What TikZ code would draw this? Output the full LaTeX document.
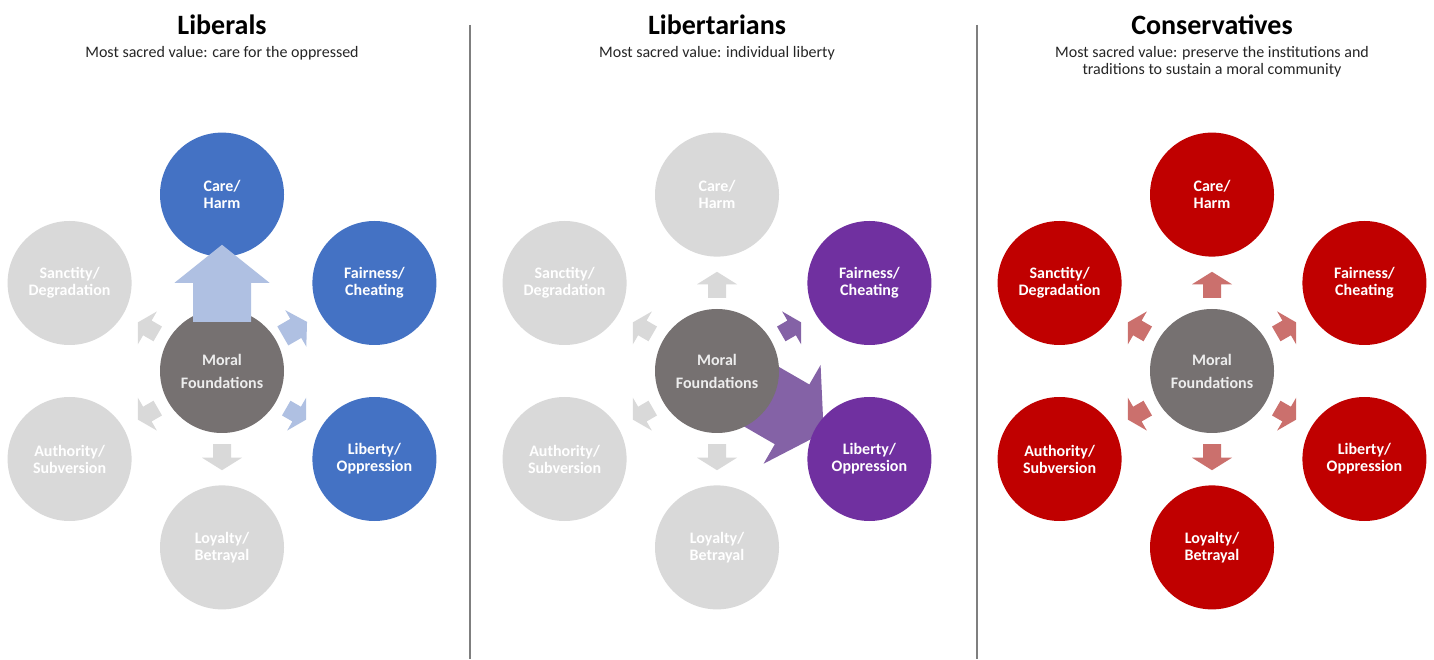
\documentclass[tikz,border=0pt]{standalone}
\usepackage{fontspec}
\setmainfont{Carlito}
\usetikzlibrary{calc,positioning}
\pgfdeclarelayer{back}
\pgfsetlayers{back,main}

\definecolor{libblue}{HTML}{4472C4}
\definecolor{libarrow}{HTML}{AFC0E2}
\definecolor{purcircle}{HTML}{7030A0}
\definecolor{purarrow}{HTML}{8462A6}
\definecolor{conred}{HTML}{C00000}
\definecolor{conarrow}{HTML}{CB706D}
\definecolor{offgray}{HTML}{D9D9D9}
\definecolor{mfgray}{HTML}{767171}
\definecolor{rulegray}{HTML}{7F7F7F}

\tikzset{
  pics/barrow/.style args={#1/#2/#3/#4/#5/#6}{code={%
    \fill[#1] (#2,-#4) -- (#3-#6,-#4) -- (#3-#6,-#5) -- (#3,0) -- (#3-#6,#5) -- (#3-#6,#4) -- (#2,#4) -- cycle;}}
}

\begin{document}
\begin{tikzpicture}[x=1pt, y=1pt,
    title/.style={anchor=base, inner sep=0pt, font=\bfseries\fontsize{28}{30}\selectfont},
    sub/.style={anchor=north, inner sep=0pt, align=center, text=black!85, font=\fontsize{16}{17}\selectfont},
    mf/.style={circle, fill=mfgray, minimum size=124pt, inner sep=0pt, text=white!93!black, align=center, font=\bfseries\fontsize{16}{23}\selectfont},
    fnd/.style={circle, minimum size=124pt, inner sep=0pt, text=white, align=center, font=\bfseries\fontsize{16}{17}\selectfont},
    arr/.style={pos=0, sloped, allow upside down},
    rule/.style={rulegray, line width=1.2pt}]
    \begin{pgfonlayer}{back}
        \fill[white] (0,0) rectangle (1434,659);
    \end{pgfonlayer}
    \useasboundingbox (0,0) rectangle (1434,659);

    %% Liberals
    \node[title] (t1) at (222,624) {Liberals};
    \node[sub] (s1) at (222,613) {Most sacred value: care for the oppressed};
    \node[mf] (mf1) at (222,288) {Moral\\Foundations};
    \node[fnd, fill=libblue, above=52pt of mf1] (care1) {Care/\\Harm};
    \node[fnd, fill=libblue] (fair1) at ($(mf1)+(30:176)$) {Fairness/\\Cheating};
    \node[fnd, fill=libblue] (lib1) at ($(mf1)+(-30:176)$) {Liberty/\\Oppression};
    \node[fnd, fill=offgray, below=52pt of mf1] (loy1) {Loyalty/\\Betrayal};
    \node[fnd, fill=offgray] (auth1) at ($(mf1)+(-150:176)$) {Authority/\\Subversion};
    \node[fnd, fill=offgray] (sanc1) at ($(mf1)+(150:176)$) {Sanctity/\\Degradation};

    \path (mf1) -- (care1) pic[arr] {barrow=libarrow/-13/64/29/47.5/38};
    \path (mf1) -- (fair1) pic[arr] {barrow=libarrow/8/36/11/21/13};
    \path (mf1) -- (lib1) pic[arr] {barrow=libarrow/12/35/8.5/19/11};
    \path (mf1) -- (loy1) pic[arr] {barrow=offgray/11/37/9/20/12.5};
    \path (mf1) -- (auth1) pic[arr] {barrow=offgray/12/35/8.5/19/11};
    \path (mf1) -- (sanc1) pic[arr] {barrow=offgray/12/35/8.5/19/11};

    \coordinate (r1t) at (470,634);
    \coordinate (r1b) at (470,0);
    \draw[rule] (r1t) -- (r1b);

    %% Libertarians
    \node[title] (t2) at (717,624) {Libertarians};
    \node[sub] (s2) at (717,613) {Most sacred value: individual liberty};
    \node[mf] (mf2) at (717,288) {Moral\\Foundations};
    \node[fnd, fill=offgray, above=52pt of mf2] (care2) {Care/\\Harm};
    \node[fnd, fill=purcircle] (fair2) at ($(mf2)+(30:176)$) {Fairness/\\Cheating};
    \node[fnd, fill=purcircle] (lib2) at ($(mf2)+(-30:176)$) {Liberty/\\Oppression};
    \node[fnd, fill=offgray, below=52pt of mf2] (loy2) {Loyalty/\\Betrayal};
    \node[fnd, fill=offgray] (auth2) at ($(mf2)+(-150:176)$) {Authority/\\Subversion};
    \node[fnd, fill=offgray] (sanc2) at ($(mf2)+(150:176)$) {Sanctity/\\Degradation};

    \begin{pgfonlayer}{back}
        \path (mf2) -- (lib2) pic[arr] {barrow=purarrow/-17/61/34.5/57/36.5};
    \end{pgfonlayer}
    \path (mf2) -- (care2) pic[arr] {barrow=offgray/11/37/9/20/12.5};
    \path (mf2) -- (fair2) pic[arr] {barrow=purarrow/12/35/8.5/19/11};
    \path (mf2) -- (loy2) pic[arr] {barrow=offgray/11/37/9/20/12.5};
    \path (mf2) -- (auth2) pic[arr] {barrow=offgray/12/35/8.5/19/11};
    \path (mf2) -- (sanc2) pic[arr] {barrow=offgray/12/35/8.5/19/11};

    \coordinate (r2t) at (977,634);
    \coordinate (r2b) at (977,0);
    \draw[rule] (r2t) -- (r2b);

    %% Conservatives
    \node[title] (t3) at (1212,624) {Conservatives};
    \node[sub] (s3) at (1212,613) {Most sacred value: preserve the institutions and\\traditions to sustain a moral community};
    \node[mf] (mf3) at (1212,288) {Moral\\Foundations};
    \node[fnd, fill=conred, above=52pt of mf3] (care3) {Care/\\Harm};
    \node[fnd, fill=conred] (fair3) at ($(mf3)+(30:176)$) {Fairness/\\Cheating};
    \node[fnd, fill=conred] (lib3) at ($(mf3)+(-30:176)$) {Liberty/\\Oppression};
    \node[fnd, fill=conred, below=52pt of mf3] (loy3) {Loyalty/\\Betrayal};
    \node[fnd, fill=conred] (auth3) at ($(mf3)+(-150:176)$) {Authority/\\Subversion};
    \node[fnd, fill=conred] (sanc3) at ($(mf3)+(150:176)$) {Sanctity/\\Degradation};

    \path (mf3) -- (care3) pic[arr] {barrow=conarrow/11/37/9/20/12.5};
    \path (mf3) -- (fair3) pic[arr] {barrow=conarrow/12/35/8.5/19/11};
    \path (mf3) -- (lib3) pic[arr] {barrow=conarrow/12/35/8.5/19/11};
    \path (mf3) -- (loy3) pic[arr] {barrow=conarrow/11/37/9/20/12.5};
    \path (mf3) -- (auth3) pic[arr] {barrow=conarrow/12/35/8.5/19/11};
    \path (mf3) -- (sanc3) pic[arr] {barrow=conarrow/12/35/8.5/19/11};
\end{tikzpicture}
\end{document}
